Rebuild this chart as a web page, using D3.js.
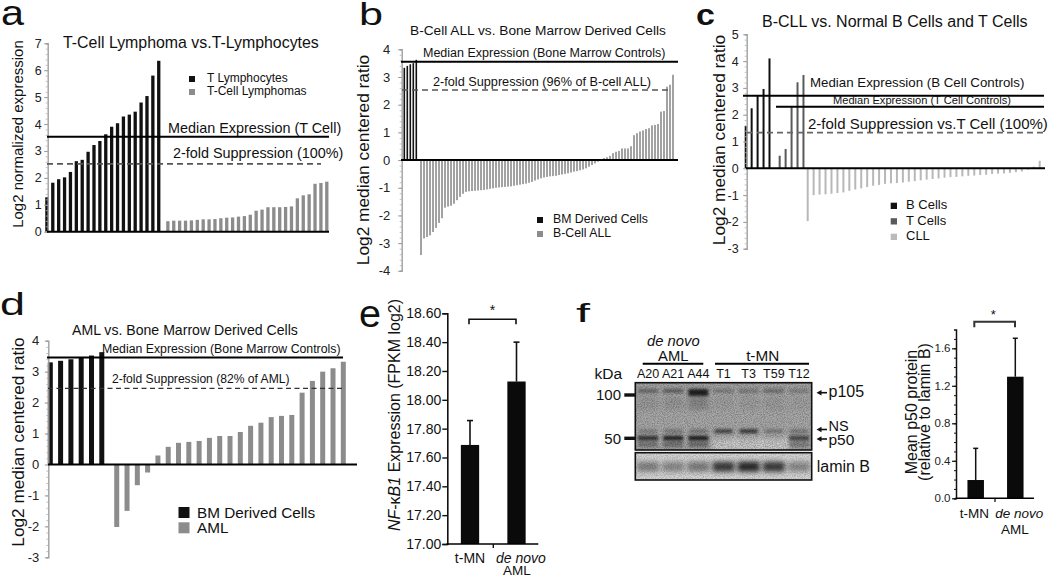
<!DOCTYPE html>
<html><head><meta charset="utf-8">
<script src="https://cdn.jsdelivr.net/npm/d3@7"></script>
<style>
body{margin:0;background:#fff}
svg{display:block}
text{font-family:"Liberation Sans",Arial,Helvetica,sans-serif;fill:#111}
</style></head>
<body><svg id="fig" width="1050" height="577"></svg>
<script>
// ---------------- DATA ----------------
// Panel a
const aTLymph = [1.28,1.82,1.95,2.02,2.22,2.62,2.67,2.97,3.22,3.37,3.62,3.90,4.03,4.28,4.35,4.46,4.80,5.04,5.80,6.35];
const aTCL = [0.39,0.41,0.41,0.41,0.42,0.44,0.46,0.46,0.47,0.50,0.52,0.53,0.56,0.58,0.63,0.78,0.82,0.91,0.91,0.91,0.92,0.94,1.24,1.35,1.39,1.78,1.81,1.86];
const aMedian = 3.53, aSupp = 2.52;
const aTicks = [0,1,2,3,4,5,6,7];
// Panel b
const bBM = [3.33,3.40,3.46,3.50,3.62];
const bALL = [-3.43,-2.83,-2.78,-2.72,-2.60,-2.45,-2.27,-2.10,-1.72,-1.68,-1.65,-1.58,-1.45,-1.33,-1.22,-1.15,-1.13,-1.12,-1.11,-1.10,
 -1.09,-1.08,-1.06,-1.04,-1.02,-1.00,-0.99,-0.98,-0.97,-0.96,-0.95,-0.93,-0.91,-0.89,-0.87,-0.85,-0.82,-0.79,-0.74,-0.70,
 -0.66,-0.63,-0.61,-0.59,-0.58,-0.57,-0.54,-0.52,-0.50,-0.48,-0.45,-0.42,-0.40,-0.37,-0.34,-0.30,-0.24,-0.18,-0.12,-0.06,
 0.03,0.07,0.10,0.15,0.25,0.30,0.33,0.42,0.42,0.42,0.50,0.90,0.97,1.03,1.07,1.12,1.15,1.25,1.27,1.30,1.75,1.77,2.65,2.72,3.08];
const bMedian = 3.55, bSupp = 2.53;
const bTicks = [-4,-3,-2,-1,0,1,2,3,4];
// Panel c
const cB = [1.58,2.24,2.71,2.96,4.10];
const cT = [0.47,0.72,2.30,3.21,3.48];
const cCLL = [-1.97,-1.00,-0.98,-0.97,-0.95,-0.92,-0.90,-0.84,-0.79,-0.75,-0.70,-0.65,-0.62,-0.58,-0.56,-0.55,-0.53,-0.50,-0.48,-0.45,
 -0.42,-0.40,-0.38,-0.35,-0.33,-0.32,-0.30,-0.28,-0.27,-0.25,-0.24,-0.21,-0.20,-0.19,-0.17,-0.14,-0.12,-0.05,0.06,0.28];
const cMedianB = 2.71, cMedianT = 2.30, cSupp = 1.33;
const cTicks = [-3,-2,-1,0,1,2,3,4,5];
// Panel d
const dBM = [3.30,3.35,3.40,3.46,3.52,3.63];
const dAML = [-2.02,-1.50,-0.67,-0.26,0.29,0.57,0.70,0.73,0.76,0.86,0.92,0.92,1.05,1.25,1.35,1.53,1.57,1.60,2.32,2.70,3.00,3.11,3.32];
const dMedian = 3.46, dSupp = 2.46;
const dTicks = [-3,-2,-1,0,1,2,3,4];
// Panel e
const eGroups = ["t-MN","de novo AML"];
const eMeans = [17.687,18.127];
const eUpper = [17.856,18.40];
const eTicks = [17.0,17.2,17.4,17.6,17.8,18.0,18.2,18.4,18.6];
// Panel f (blot)
const fLanes = ["A20","A21","A44","T1","T3","T59","T12"];
const fP105 = [0.45,0.50,1.00,0.28,0.30,0.38,0.25];
const fNS = [0.28,0.32,0.35,0.75,0.85,0.35,0.35];
const fP50 = [0.80,0.90,0.95,0.08,0.08,0.08,0.65];
const fLamin = [0.45,0.40,0.48,0.85,0.95,0.85,0.40];
const fMarkers = [100,50];
const fBands = [{name:"p105",kda:105},{name:"NS",kda:56},{name:"p50",kda:50}];
// Panel f (bars)
const gGroups = ["t-MN","de novo AML"];
const gMeans = [0.195,1.297];
const gUpper = [0.533,1.707];
const gTicks = [0,0.4,0.8,1.2,1.6];

// ---------------- HELPERS ----------------
const svg = d3.select("#fig");
svg.append("rect").attr("width",1050).attr("height",577).attr("fill","#fff");
const defs = svg.append("defs");
defs.append("filter").attr("id","blur1").attr("x","-50%").attr("y","-100%").attr("width","200%").attr("height","300%")
  .append("feGaussianBlur").attr("stdDeviation",1.6);
defs.append("filter").attr("id","blur2").attr("x","-50%").attr("y","-100%").attr("width","200%").attr("height","300%")
  .append("feGaussianBlur").attr("stdDeviation",2.6);
const noise = defs.append("filter").attr("id","grain").attr("x",0).attr("y",0).attr("width","100%").attr("height","100%");
noise.append("feTurbulence").attr("type","fractalNoise").attr("baseFrequency",0.9).attr("numOctaves",2).attr("seed",3);
noise.append("feColorMatrix").attr("values","0 0 0 0 0  0 0 0 0 0  0 0 0 0 0  0 0 0 -1.6 1.05");

function txt(g,x,y,s,size,o={}){
  const t=g.append("text").attr("x",x).attr("y",y).text(s).style("font-size",size+"px");
  if(o.anchor)t.attr("text-anchor",o.anchor);
  if(o.italic)t.style("font-style","italic");
  if(o.weight)t.style("font-weight",o.weight);
  if(o.rot)t.attr("transform",`rotate(-90,${x},${y})`);
  if(o.len)t.attr("textLength",o.len).attr("lengthAdjust","spacingAndGlyphs");
  if(o.fill)t.style("fill",o.fill);
  return t;
}
function hline(g,x1,x2,y,w,color,dash){
  const l=g.append("line").attr("x1",x1).attr("x2",x2).attr("y1",y).attr("y2",y)
    .attr("stroke",color||"#000").attr("stroke-width",w);
  if(dash)l.attr("stroke-dasharray",dash);
  return l;
}
function greyAxis(g,x,y,ticks,pad,fs,minorStep){
  const lo=d3.min(ticks),hi=d3.max(ticks);
  const minors=d3.range(lo,hi+1e-9,minorStep);
  const gm=g.append("g").attr("transform",`translate(${x},0)`)
    .call(d3.axisLeft(y).tickValues(minors).tickSize(2).tickFormat(""));
  gm.select(".domain").attr("stroke","#a0a0a0").attr("stroke-width",1.4);
  gm.selectAll(".tick line").attr("stroke","#b0b0b0").attr("stroke-width",0.8);
  const ga=g.append("g").attr("transform",`translate(${x},0)`)
    .call(d3.axisLeft(y).tickValues(ticks).tickSize(3.5).tickPadding(pad).tickFormat(d=>String(d)));
  ga.select(".domain").remove();
  ga.selectAll(".tick line").attr("stroke","#999");
  ga.selectAll("text").style("font-size",fs+"px").style("fill","#222").attr("font-family",null);
}
function bars(g,groups,xs,y,w){
  groups.forEach(gr=>{
    g.append("g").selectAll("rect").data(gr.v).join("rect")
      .attr("x",(d,i)=>xs(gr.off+i)-w/2)
      .attr("y",d=>Math.min(y(d),y(0)))
      .attr("width",w)
      .attr("height",d=>Math.abs(y(d)-y(0)))
      .attr("fill",gr.color);
  });
}
function legend(g,items,x,y0,dy,sq,fs,tx){
  items.forEach((it,i)=>{
    g.append("rect").attr("x",x).attr("y",y0+i*dy-sq).attr("width",sq).attr("height",sq).attr("fill",it.color);
    txt(g,x+tx,y0+i*dy,it.name,fs);
  });
}

// ---------------- PANEL A ----------------
{
  const g=svg.append("g");
  txt(g,1,25,"a",35,{len:23});
  const y=d3.scaleLinear().domain([0,7]).range([231.7,43.3]);
  const xs=d3.scaleLinear().domain([0,47.55]).range([46.9,326.8]);
  bars(g,[{v:aTLymph,off:0,color:"#111"},{v:aTCL,off:20.55,color:"#8c8c8c"}],xs,y,3.3);
  greyAxis(g,47.7,y,aTicks,2.5,12.5,0.2);
  hline(g,47,329,y(0),2);
  hline(g,47,329,y(aMedian),2);
  hline(g,47,321,y(aSupp),1.8,"#555","6,4");
  txt(g,63,48,"T-Cell Lymphoma vs.T-Lymphocytes",15.9);
  txt(g,168,132.7,"Median Expression (T Cell)",14.4);
  txt(g,173,158.3,"2-fold Suppression (100%)",14.4);
  legend(g,[{name:"T Lymphocytes",color:"#111"},{name:"T-Cell Lymphomas",color:"#8c8c8c"}],189,82,13,6,12,18);
  txt(g,22.5,134,"Log2 normalized expression",15,{anchor:"middle",rot:true});
}
// ---------------- PANEL B ----------------
{
  const g=svg.append("g");
  txt(g,359,25,"b",31,{len:24});
  const y=d3.scaleLinear().domain([-4,4]).range([270.8,49.3]);
  const xs=d3.scaleLinear().domain([0,89.57]).range([404.3,673]);
  bars(g,[{v:bBM,off:0,color:"#111"},{v:bALL,off:5.57,color:"#8c8c8c"}],xs,y,1.6);
  greyAxis(g,401.7,y,bTicks,8,13,0.2);
  hline(g,401,678,y(0),2);
  hline(g,401,678,y(bMedian),2);
  hline(g,402,668,y(bSupp),1.6,"#555","6,4");
  txt(g,410,35,"B-Cell ALL vs. Bone Marrow Derived Cells",13.7);
  txt(g,423,57,"Median Expression (Bone Marrow Controls)",12.5);
  txt(g,433,86,"2-fold Suppression (96% of B-cell ALL)",12.7);
  legend(g,[{name:"BM Derived Cells",color:"#111"},{name:"B-Cell ALL",color:"#8c8c8c"}],537,223,14,6,12.3,16);
  txt(g,369,160,"Log2 median centered ratio",17.3,{anchor:"middle",rot:true});
}
// ---------------- PANEL C ----------------
{
  const g=svg.append("g");
  txt(g,696,25,"c",29,{weight:"bold",len:19});
  const y=d3.scaleLinear().domain([-3,5]).range([248.7,34.3]);
  const xs=d3.scaleLinear().domain([0,49.42]).range([745.7,1039.7]);
  bars(g,[{v:cB,off:0,color:"#111"},{v:cT,off:5.71,color:"#5a5a5a"},{v:cCLL,off:10.42,color:"#b8b8b8"}],xs,y,2);
  greyAxis(g,746.7,y,cTicks,4.5,12.5,0.2);
  hline(g,746,1045,y(0),2);
  hline(g,743,1044,y(cMedianB),2);
  hline(g,776,1044,y(cMedianT),2);
  hline(g,747,1045,y(cSupp),1.6,"#666","6,4");
  txt(g,762,27,"B-CLL vs. Normal B Cells and T Cells",16);
  txt(g,810,87.3,"Median Expression (B Cell Controls)",13.3);
  txt(g,833,104,"Median Expression (T Cell Controls)",11.1);
  txt(g,808,129.3,"2-fold Suppression vs.T Cell (100%)",15);
  legend(g,[{name:"B Cells",color:"#111"},{name:"T Cells",color:"#5a5a5a"},{name:"CLL",color:"#bbb"}],890.7,209,15.5,6.3,13,15.3);
  txt(g,725,140,"Log2 median centered ratio",17.3,{anchor:"middle",rot:true});
}
// ---------------- PANEL D ----------------
{
  const g=svg.append("g");
  txt(g,0,315,"d",32,{len:25});
  const y=d3.scaleLinear().domain([-3,4]).range([557.3,340.7]);
  const xs=d3.scaleLinear().domain([0,28.45]).range([50.3,343.3]);
  bars(g,[{v:dBM,off:0,color:"#111"},{v:dAML,off:6.45,color:"#8c8c8c"}],xs,y,5);
  greyAxis(g,48.3,y,dTicks,5.5,13,0.2);
  hline(g,48,357,y(0),2);
  hline(g,47,343,y(dMedian),2);
  hline(g,48,343,y(dSupp),1.3,"#333","5,3.5");
  txt(g,72,335,"AML vs. Bone Marrow Derived Cells",14.1);
  txt(g,102,352.7,"Median Expression (Bone Marrow Controls)",12.3);
  txt(g,112,383.3,"2-fold Suppression (82% of AML)",12.1);
  legend(g,[{name:"BM Derived Cells",color:"#111"},{name:"AML",color:"#8c8c8c"}],178.5,518,15.3,11,15.3,18.5);
  txt(g,23.5,442,"Log2 median centered ratio",17.2,{anchor:"middle",rot:true});
}
// ---------------- PANEL E ----------------
{
  const g=svg.append("g");
  txt(g,359,327,"e",38,{len:22});
  const y=d3.scaleLinear().domain([17,18.6]).range([544,313.3]);
  const xs=d3.scalePoint().domain(eGroups).range([470,516.5]);
  const w=18.3;
  g.selectAll(".bar").data(eGroups).join("rect")
    .attr("x",d=>xs(d)-w/2).attr("width",w)
    .attr("y",(d,i)=>y(eMeans[i])).attr("height",(d,i)=>y(17)-y(eMeans[i])).attr("fill","#0a0a0a");
  eGroups.forEach((d,i)=>{
    g.append("line").attr("x1",xs(d)).attr("x2",xs(d)).attr("y1",y(eMeans[i])).attr("y2",y(eUpper[i])).attr("stroke","#111").attr("stroke-width",1.6);
    g.append("line").attr("x1",xs(d)-3).attr("x2",xs(d)+3).attr("y1",y(eUpper[i])).attr("y2",y(eUpper[i])).attr("stroke","#111").attr("stroke-width",1.6);
  });
  const ga=g.append("g").attr("transform","translate(447.3,0)")
    .call(d3.axisLeft(y).tickValues(eTicks).tickSize(5).tickPadding(1).tickFormat(d3.format(".2f")));
  ga.select(".domain").attr("stroke","#111").attr("stroke-width",1.6);
  ga.selectAll(".tick line").attr("stroke","#111").attr("stroke-width",1.4);
  ga.selectAll("text").style("font-size","14px").style("fill","#111").attr("font-family",null);
  hline(g,446.5,538.3,y(17),1.6);
  g.append("line").attr("x1",493.3).attr("x2",493.3).attr("y1",544).attr("y2",548).attr("stroke","#111").attr("stroke-width",1.4);
  g.append("path").attr("d","M469,324.3V319.3H516V324.3").attr("fill","none").attr("stroke","#111").attr("stroke-width",1.6);
  txt(g,492.5,315,"*",14,{anchor:"middle"});
  txt(g,470,562.5,"t-MN",14,{anchor:"middle"});
  txt(g,521,562.5,"de novo",14,{anchor:"middle",italic:true});
  txt(g,517,574.5,"AML",13.5,{anchor:"middle"});
  const yl=g.append("text").attr("transform","translate(399.5,415) rotate(-90)").attr("text-anchor","middle").style("font-size","16px");
  yl.append("tspan").style("font-style","italic").text("NF");
  yl.append("tspan").text("-κ");
  yl.append("tspan").style("font-style","italic").text("B1");
  yl.append("tspan").text(" Expression (FPKM log2)");
}
// ---------------- PANEL F : BLOT ----------------
{
  const g=svg.append("g");
  txt(g,576,321.7,"f",26,{len:14});
  const lx=d3.scalePoint().domain(fLanes).range([648,799]);
  const ky=d3.scaleLog().domain([50,100]).range([438.3,395]);
  const bx=635.3,bw=176.4, by=382.7,bh=67.3, ly=452.7,lh=27.3;
  defs.append("clipPath").attr("id","clipMain").append("rect").attr("x",bx).attr("y",by).attr("width",bw).attr("height",bh);
  defs.append("clipPath").attr("id","clipLam").append("rect").attr("x",bx).attr("y",ly).attr("width",bw).attr("height",lh);
  g.append("rect").attr("x",bx).attr("y",by).attr("width",bw).attr("height",bh).attr("fill","#a9a9a9");
  const m=g.append("g").attr("clip-path","url(#clipMain)");
  m.append("rect").attr("x",713).attr("y",ky(50)-1).attr("width",76).attr("height",14).attr("fill","#cdcdcd").attr("filter","url(#blur2)");
  m.append("rect").attr("x",bx).attr("y",by).attr("width",bw).attr("height",8).attr("fill","#9c9c9c").attr("opacity",0.6).attr("filter","url(#blur2)");
  m.selectAll(".smear").data(fLanes).join("rect")
    .attr("x",d=>lx(d)-10).attr("width",20).attr("y",ky(100)+1).attr("height",14)
    .attr("fill","#000").attr("opacity",(d,i)=>fP105[i]*0.18).attr("filter","url(#blur2)");
  m.selectAll(".p105").data(fLanes).join("rect")
    .attr("x",d=>lx(d)-10).attr("width",20).attr("y",ky(105)-3).attr("height",(d,i)=>fP105[i]>0.9?7:4)
    .attr("fill","#000").attr("opacity",(d,i)=>fP105[i]*0.8).attr("filter","url(#blur1)");
  m.selectAll(".ns").data(fLanes).join("rect")
    .attr("x",d=>lx(d)-9).attr("width",18).attr("y",ky(56)-2).attr("height",4)
    .attr("fill","#000").attr("opacity",(d,i)=>fNS[i]*0.8).attr("filter","url(#blur1)");
  m.selectAll(".p50").data(fLanes).join("rect")
    .attr("x",d=>lx(d)-10).attr("width",20).attr("y",ky(50)-2.5).attr("height",4.5)
    .attr("fill","#000").attr("opacity",(d,i)=>fP50[i]*0.9).attr("filter","url(#blur1)");
  m.selectAll(".low").data(fLanes).join("rect")
    .attr("x",d=>lx(d)-10).attr("width",20).attr("y",ky(50)+3).attr("height",6)
    .attr("fill","#000").attr("opacity",(d,i)=>fP50[i]*0.35).attr("filter","url(#blur1)");
  m.append("rect").attr("x",bx).attr("y",by).attr("width",bw).attr("height",bh).attr("filter","url(#grain)").attr("opacity",0.35);
  g.append("rect").attr("x",bx).attr("y",by).attr("width",bw).attr("height",bh).attr("fill","none").attr("stroke","#111").attr("stroke-width",1.6);
  g.append("rect").attr("x",bx).attr("y",ly).attr("width",bw).attr("height",lh).attr("fill","#d4d4d4");
  const l=g.append("g").attr("clip-path","url(#clipLam)");
  l.selectAll(".lam").data(fLanes).join("rect")
    .attr("x",d=>lx(d)-11).attr("width",22).attr("y",ly+9).attr("height",10)
    .attr("fill","#000").attr("opacity",(d,i)=>fLamin[i]*0.85).attr("filter","url(#blur2)");
  l.append("rect").attr("x",bx).attr("y",ly).attr("width",bw).attr("height",lh).attr("filter","url(#grain)").attr("opacity",0.25);
  g.append("rect").attr("x",bx).attr("y",ly).attr("width",bw).attr("height",lh).attr("fill","none").attr("stroke","#111").attr("stroke-width",1.6);
  fMarkers.forEach(k=>{
    g.append("rect").attr("x",624.3).attr("y",ky(k)-1.7).attr("width",11).attr("height",3.4).attr("fill","#111");
    txt(g,621,ky(k)+5.3,String(k),15,{anchor:"end"});
  });
  txt(g,594.5,379.3,"kDa",15.5);
  g.selectAll(".lanel").data(fLanes).join("text").attr("x",d=>lx(d)).attr("y",378.3).attr("text-anchor","middle")
    .style("font-size","12.5px").text(d=>d);
  txt(g,673.3,345.8,"de novo",14.8,{anchor:"middle",italic:true});
  txt(g,673.3,361,"AML",14.8,{anchor:"middle"});
  txt(g,762.7,361,"t-MN",15.3,{anchor:"middle"});
  hline(g,642.7,703.3,363.8,2);
  hline(g,715,809,363.8,2);
  const arrowY={p105:392.7,NS:429.5,p50:439};
  const textY={p105:397,NS:430.5,p50:445};
  const textS={p105:16,NS:14.5,p50:15.5};
  fBands.forEach(b=>{
    const yy=arrowY[b.name];
    g.append("line").attr("x1",820).attr("x2",827).attr("y1",yy).attr("y2",yy).attr("stroke","#111").attr("stroke-width",1.6);
    g.append("path").attr("d",`M816.5,${yy}L821.5,${yy-2.8}L821.5,${yy+2.8}Z`).attr("fill","#111");
    txt(g,828.5,textY[b.name],b.name,textS[b.name]);
  });
  txt(g,816.7,471.7,"lamin B",16);
}
// ---------------- PANEL F : BARS ----------------
{
  const g=svg.append("g");
  const y=d3.scaleLinear().domain([0,1.6]).range([498.3,348.3]);
  const xs=d3.scalePoint().domain(gGroups).range([975.7,1015.3]);
  const w=16.5;
  g.selectAll(".bar").data(gGroups).join("rect")
    .attr("x",d=>xs(d)-w/2).attr("width",w)
    .attr("y",(d,i)=>y(gMeans[i])).attr("height",(d,i)=>y(0)-y(gMeans[i])).attr("fill","#0a0a0a");
  gGroups.forEach((d,i)=>{
    g.append("line").attr("x1",xs(d)).attr("x2",xs(d)).attr("y1",y(gMeans[i])).attr("y2",y(gUpper[i])).attr("stroke","#111").attr("stroke-width",1.5);
    g.append("line").attr("x1",xs(d)-2.5).attr("x2",xs(d)+2.5).attr("y1",y(gUpper[i])).attr("y2",y(gUpper[i])).attr("stroke","#111").attr("stroke-width",1.5);
  });
  const gm=g.append("g").attr("transform","translate(956,0)")
    .call(d3.axisLeft(y.copy().domain([0,1.8]).range([498.3,329.55])).tickValues(d3.range(0,1.75,0.1)).tickSize(2).tickFormat(""));
  gm.select(".domain").attr("stroke","#111").attr("stroke-width",1.5);
  gm.selectAll(".tick line").attr("stroke","#111");
  const ga=g.append("g").attr("transform","translate(956,0)")
    .call(d3.axisLeft(y).tickValues(gTicks).tickSize(4).tickPadding(1.5).tickFormat(d3.format(".1f")));
  ga.select(".domain").remove();
  ga.selectAll(".tick line").attr("stroke","#111").attr("stroke-width",1.2);
  ga.selectAll("text").style("font-size","11.5px").style("fill","#222").attr("font-family",null);
  hline(g,955.5,1034,y(0),1.6);
  g.append("line").attr("x1",995).attr("x2",995).attr("y1",498.3).attr("y2",502).attr("stroke","#111").attr("stroke-width",1.3);
  g.append("path").attr("d","M974.3,327.3V321.7H1015V327.3").attr("fill","none").attr("stroke","#333").attr("stroke-width",2);
  txt(g,993.3,318.5,"*",13,{anchor:"middle"});
  txt(g,974.3,518.3,"t-MN",13.5,{anchor:"middle"});
  txt(g,1019.3,518.3,"de novo",13.5,{anchor:"middle",italic:true});
  txt(g,1015,534,"AML",13.5,{anchor:"middle"});
  txt(g,917,412,"Mean p50 protein",16,{anchor:"middle",rot:true});
  txt(g,930,412,"(relative to lamin B)",16,{anchor:"middle",rot:true});
}
</script></body></html>
